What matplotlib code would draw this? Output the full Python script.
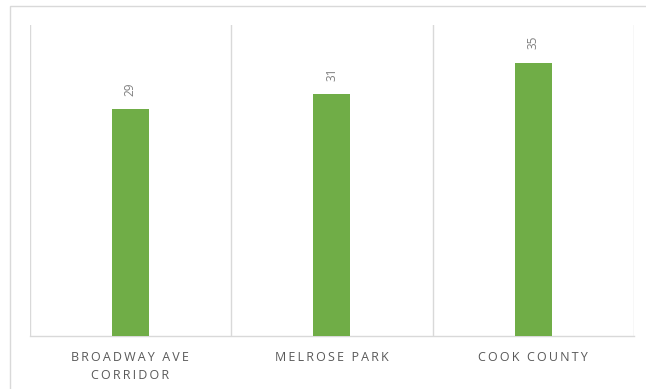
import matplotlib
matplotlib.use("Agg")
import matplotlib.pyplot as plt
from matplotlib.patches import Rectangle

categories = ["BROADWAY AVE\nCORRIDOR", "MELROSE PARK", "COOK COUNTY"]
values = [29, 31, 35]

W, H = 646, 389
fig = plt.figure(figsize=(W / 100, H / 100), dpi=100)
fig.patch.set_facecolor("white")

# outer chart border (top and left visible)
fig.add_artist(Rectangle((9.5 / W, -0.2), 2.0, 1.2 - 5.5 / H, transform=fig.transFigure,
                         fill=False, edgecolor="#d9d9d9", linewidth=1.0))

ax = fig.add_axes([29.5 / W, 1 - 336 / H, (634 - 29.5) / W, (336 - 25) / H])
x = list(range(len(values)))
ax.bar(x, values, width=0.185, color="#70AD47", zorder=3)
ax.set_xlim(-0.5, len(values) - 0.5)
ax.set_ylim(0, 39.8)

for s in ["top", "left", "right"]:
    ax.spines[s].set_visible(False)
ax.spines["bottom"].set_color("#d9d9d9")
ax.spines["bottom"].set_linewidth(1.0)
ax.set_yticks([])

for gx in [-0.5, 0.5, 1.5, 2.5]:
    ax.axvline(gx, color="#d9d9d9", linewidth=1.0, zorder=1)

def spaced(s):
    return "\n".join("\u2009".join(list(line)) for line in s.split("\n"))

ax.set_xticks(x)
ax.set_xticklabels([spaced(c) for c in categories], color="#595959", fontsize=9,
                   family=["Open Sans", "DejaVu Sans"], linespacing=1.45)
ax.tick_params(axis="x", length=0, pad=11)

for xi, v in zip(x, values):
    ax.annotate(str(v), (xi, v), xytext=(0, 9.5), textcoords="offset points",
                rotation=90, ha="center", va="bottom", fontsize=8.5,
                color="#7f7f7f", family=["Open Sans", "DejaVu Sans"])

fig.savefig("out.png", dpi=100)
